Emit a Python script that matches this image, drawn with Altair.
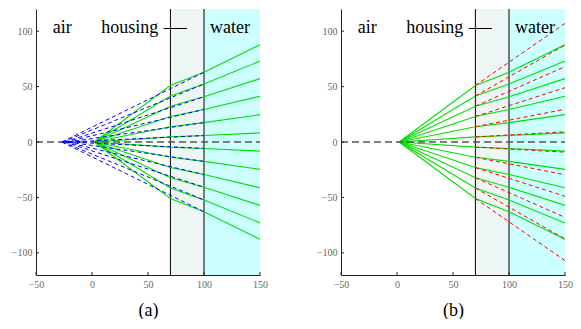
import altair as alt
import pandas as pd

# ---- values ----
source_x = 2.0
housing_in_x = 70.0
water_in_x = 100.0
end_x = 150.0

# ray heights where they reach housing (x=70), water (x=100) and x=150
ray_y_70 = [51.0, 41.5, 32.3, 23.0, 13.8, 4.6, -4.6, -13.8, -23.0, -32.3, -41.5, -51.0]
ray_y_100 = [63.0, 52.3, 40.8, 29.4, 17.5, 5.8, -5.8, -17.5, -29.4, -40.8, -52.3, -63.0]
ray_y_150 = [87.8, 73.0, 57.2, 41.3, 24.7, 8.2, -8.2, -24.7, -41.3, -57.2, -73.0, -87.8]
# (a) virtual rays: water segment traced back to the axis
virtual_x0 = [-27.0, -26.3, -24.4, -23.5, -21.5, -20.5, -20.5, -21.5, -23.5, -24.4, -26.3, -27.0]
# (b) unrefracted rays: height at x=150
straight_y_150 = [107.0, 87.5, 68.0, 49.0, 29.5, 9.2, -9.2, -29.5, -49.0, -68.0, -87.5, -107.0]

region_x = [70, 100]
region_x2 = [100, 150]
region_fill = ["#edf6f4", "#ccffff"]

label_text = ["air", "housing", "water"]
label_x = [-26.5, 33.8, 123.2]
label_y = [98.5, 98.5, 98.5]
leader_x = [64.0]
leader_x2 = [84.8]
leader_y = [102.4]

x_ticks = [-50, 0, 50, 100, 150]
y_ticks = [-100, -50, 0, 50, 100]
x_dom = [-50, 150]
y_dom = [-120, 120]

# ---- tables ----
green_rows = []
for i in range(len(ray_y_70)):
    for x, y in [(source_x, 0.0), (housing_in_x, ray_y_70[i]),
                 (water_in_x, ray_y_100[i]), (end_x, ray_y_150[i])]:
        green_rows.append({"ray": i, "x": x, "y": y})
green_df = pd.DataFrame(green_rows)

blue_rows = []
for i in range(len(ray_y_100)):
    blue_rows.append({"ray": i, "x": water_in_x, "y": ray_y_100[i]})
    blue_rows.append({"ray": i, "x": virtual_x0[i], "y": 0.0})
blue_df = pd.DataFrame(blue_rows)

red_rows = []
for i in range(len(ray_y_70)):
    red_rows.append({"ray": i, "x": housing_in_x, "y": ray_y_70[i]})
    red_rows.append({"ray": i, "x": end_x, "y": straight_y_150[i]})
red_df = pd.DataFrame(red_rows)

regions_df = pd.DataFrame({"x": region_x, "x2": region_x2, "fill": region_fill,
                           "y": [y_dom[0]] * 2, "y2": [y_dom[1]] * 2})
iface_df = pd.DataFrame({"x": [70, 100], "y": [y_dom[0]] * 2, "y2": [y_dom[1]] * 2})
axis0_df = pd.DataFrame({"x": [x_dom[0]], "x2": [x_dom[1]], "y": [0]})
labels_df = pd.DataFrame({"t": label_text, "x": label_x, "y": label_y})
leader_df = pd.DataFrame({"x": leader_x, "x2": leader_x2, "y": leader_y})
ytick_df = pd.DataFrame({"x": [x_dom[0]] * 5, "x2": [x_dom[0] + 2.7] * 5, "y": y_ticks})
xtick_df = pd.DataFrame({"x": x_ticks, "y": [y_dom[0]] * 5, "y2": [y_dom[0] + 2.7] * 5})

SERIF = "Liberation Serif, Times New Roman, serif"
xs = alt.Scale(domain=x_dom, nice=False, zero=False)
ys = alt.Scale(domain=y_dom, nice=False, zero=False)


def panel(title, dashed_df, dashed_color):
    xax = alt.Axis(values=x_ticks, ticks=False, tickSize=0, grid=False, labelFont=SERIF,
                   labelFontSize=10, labelColor="#666666", labelPadding=4,
                   domainColor="#222222", domainWidth=1, title=title, titleFont=SERIF,
                   titleFontSize=18, titleFontWeight="normal", titleColor="#000000",
                   titlePadding=12, labelFlush=False)
    yax = alt.Axis(values=y_ticks, ticks=False, tickSize=0, grid=False, labelFont=SERIF,
                   labelFontSize=10, labelColor="#666666", labelPadding=4,
                   domainColor="#222222", domainWidth=1, title=None, labelFlush=False)

    def X(f):
        return alt.X(f, type="quantitative", scale=xs, axis=xax)

    def Y(f):
        return alt.Y(f, type="quantitative", scale=ys, axis=yax)

    rects = alt.Chart(regions_df).mark_rect().encode(
        x=X("x"), x2="x2", y=Y("y"), y2="y2",
        color=alt.Color("fill:N", scale=None))
    ifaces = alt.Chart(iface_df).mark_rule(color="#000000", strokeWidth=1).encode(
        x=X("x"), y=Y("y"), y2="y2")
    green = alt.Chart(green_df).mark_line(color="#00e000", strokeWidth=1.1).encode(
        x=X("x"), y=Y("y"), detail="ray:N")
    axis0 = alt.Chart(axis0_df).mark_rule(color="#555555", strokeWidth=1.6,
                                         strokeDash=[7, 4]).encode(
        x=X("x"), x2="x2", y=Y("y"))
    dashed = alt.Chart(dashed_df).mark_line(color=dashed_color, strokeWidth=1,
                                           strokeDash=[4, 3]).encode(
        x=X("x"), y=Y("y"), detail="ray:N")
    texts = alt.Chart(labels_df).mark_text(font=SERIF, fontSize=18, color="#000000",
                                          align="center", baseline="alphabetic").encode(
        x=X("x"), y=Y("y"), text="t:N")
    leader = alt.Chart(leader_df).mark_rule(color="#000000", strokeWidth=1).encode(
        x=X("x"), x2="x2", y=Y("y"))
    yt = alt.Chart(ytick_df).mark_rule(color="#222222", strokeWidth=1).encode(
        x=X("x"), x2="x2", y=Y("y"))
    xt = alt.Chart(xtick_df).mark_rule(color="#222222", strokeWidth=1).encode(
        x=X("x"), y=Y("y"), y2="y2")
    return alt.layer(rects, ifaces, green, axis0, dashed, texts, leader, yt, xt).properties(
        width=224, height=266)


pa = panel("(a)", blue_df, "#0000ff")
pb = panel("(b)", red_df, "#ff0000")

chart = alt.hconcat(pa, pb, spacing=48).properties(
    padding={"left": 3, "top": 0, "right": 0, "bottom": 0}
).configure_view(stroke=None)

chart.save("out.html", embed_options={"renderer": "svg", "actions": False})
